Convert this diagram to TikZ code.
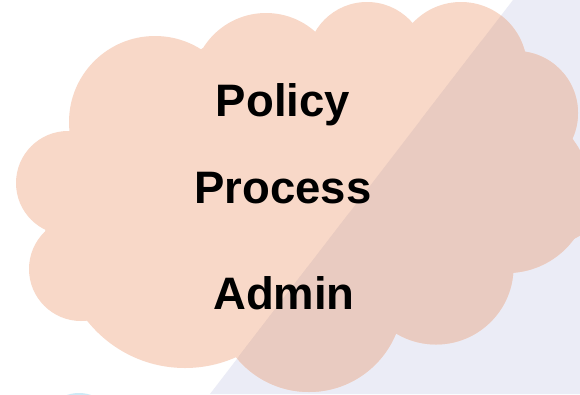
\documentclass[tikz,border=0pt]{standalone}
\usepackage{fontspec}
\setmainfont{Liberation Sans}
\definecolor{peach}{RGB}{248,216,200}
\definecolor{lav}{RGB}{235,236,246}
\definecolor{overlapc}{RGB}{233,203,193}
\definecolor{lblue}{RGB}{205,234,246}
\newcommand{\cloudshape}[1]{%
  \fill[#1] (68,132) -- (203,48) -- (315,32) -- (413,23) -- (525,52) -- (573,140) -- (590,230) -- (513,273) -- (396,333) -- (236,357) -- (87,321) -- (45,232) -- cycle;
  \fill[#1] (155,122) circle[radius=86pt];
  \fill[#1] (266,87) circle[radius=74pt];
  \fill[#1] (367,62) circle[radius=60pt];
  \fill[#1] (461,68) circle[radius=66pt];
  \fill[#1] (516,113) circle[radius=62pt];
  \fill[#1] (507,190) circle[radius=83pt];
  \fill[#1] (436,267) circle[radius=77.5pt];
  \fill[#1] (309,298) circle[radius=94pt];
  \fill[#1] (185,243) circle[radius=125pt];
  \fill[#1] (81,269) circle[radius=52pt];
  \fill[#1] (68,183) circle[radius=52pt];
}
\tikzset{lbl/.style={font=\fontsize{45.5}{50}\selectfont\bfseries, text=black, inner sep=0pt, anchor=base}}
\begin{document}
\begin{tikzpicture}[x=1pt,y=-1pt]
\useasboundingbox (0,0) rectangle (580,394);
\clip (0,0) rectangle (580,394);
\fill[white] (0,0) rectangle (580,394);
\fill[lav] (210,394) -- (513,0) -- (580,0) -- (580,394) -- cycle;
\fill[lblue] (79,431) circle[radius=38pt];
\cloudshape{peach}
\begin{scope}
  \clip (210,394) -- (513,0) -- (580,0) -- (580,394) -- cycle;
  \cloudshape{overlapc}
\end{scope}
\node[lbl] (policy) at (283,116) {Policy};
\node[lbl] (process) at (283,203) {Process};
\node[lbl] (admin) at (284,309) {Admin};
\end{tikzpicture}
\end{document}
